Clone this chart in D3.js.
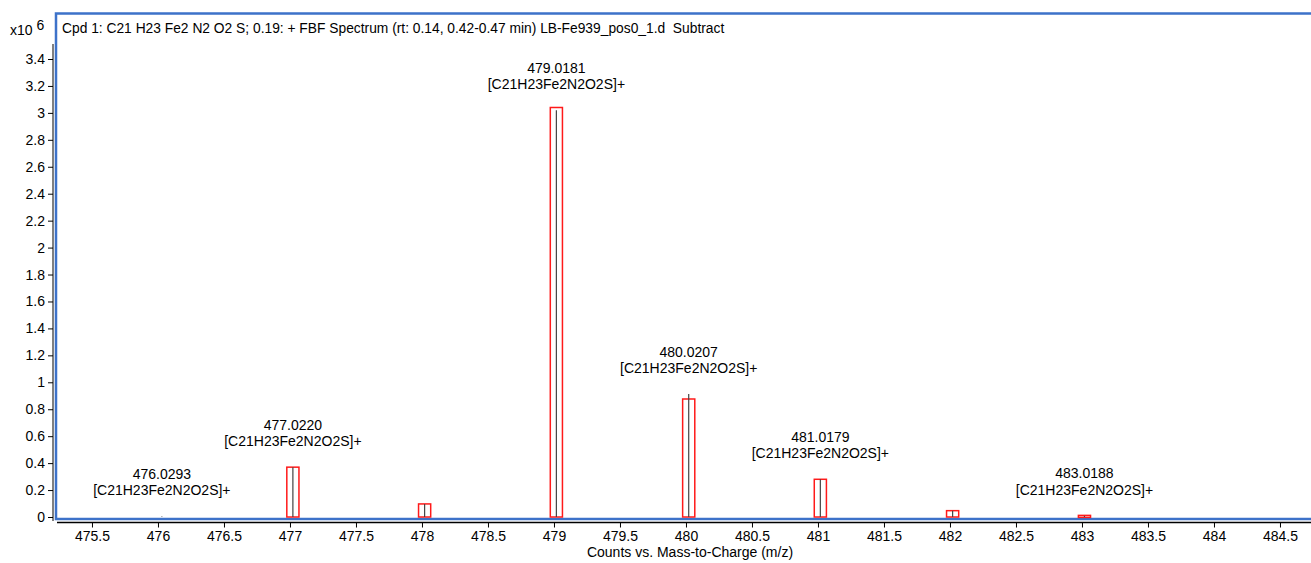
<!DOCTYPE html>
<html lang="en">
<head>
  <meta charset="UTF-8">
  <title>Cpd 1 FBF Spectrum</title>
  <script src="https://cdn.jsdelivr.net/npm/d3@7"></script>
  <style>
    body { margin: 0; background: #fff; font-family: Arial, "Liberation Sans", sans-serif; }
    svg text { font-family: Arial, "Liberation Sans", sans-serif; fill: #000; white-space: pre; }
  </style>
</head>
<body>
  <svg id="chart" width="1311" height="563"></svg>
  <script>
    // peaks: measured m/z (labels), predicted isotope box heights, measured line heights (x10^6)
    const peakMz      = [476.0293, 477.0220, 478.0200, 479.0181, 480.0207, 481.0179, 482.0200, 483.0188];
    const predicted   = [0,        0.37,     0.097,    3.04,     0.876,    0.28,     0.047,    0.012];
    const measured    = [0.004,    0.37,     0.097,    3.02,     0.913,    0.28,     0.047,    0.008];
    const labelled    = [true,     true,     false,    true,     true,     true,     false,    true];
    const formula = "[C21H23Fe2N2O2S]+";
    const title = "Cpd 1: C21 H23 Fe2 N2 O2 S; 0.19: + FBF Spectrum (rt: 0.14, 0.42-0.47 min) LB-Fe939_pos0_1.d  Subtract";
    const xTicks = d3.range(475.5, 484.51, 0.5);
    const yTicks = d3.range(0, 3.41, 0.2).map(v => +v.toFixed(1));

    const svg = d3.select("#chart");
    const fs = "14px";

    const x = d3.scaleLinear().domain([475.235, 484.735]).range([57, 1311]);
    const y = d3.scaleLinear().domain([0, 3.4]).range([517, 59]);

    // blue plot frame
    svg.append("rect")
      .attr("x", 56).attr("y", 13.5)
      .attr("width", 1300).attr("height", 505.5)
      .attr("fill", "none")
      .attr("stroke", "#3d72c9")
      .attr("stroke-width", 2.5);

    // y axis
    const yAxis = svg.append("g")
      .attr("transform", "translate(53,0)")
      .call(d3.axisLeft(y).tickValues(yTicks).tickSize(5).tickPadding(3)
        .tickFormat(d => d3.format("~g")(d)));
    yAxis.select(".domain").attr("d", "M0,44V521");
    yAxis.selectAll("text").style("font-size", fs);

    // x axis
    const xAxis = svg.append("g")
      .attr("transform", "translate(0,522.5)")
      .call(d3.axisBottom(x).tickValues(xTicks).tickSize(5).tickPadding(4)
        .tickFormat(d => d3.format("~g")(d)));
    xAxis.select(".domain").attr("d", "M57,0H1311").attr("stroke-width", 1.5);
    xAxis.selectAll("text").style("font-size", fs);

    // multiplier
    const mult = svg.append("text").attr("x", 10).attr("y", 35).style("font-size", fs);
    mult.append("tspan").text("x10");
    mult.append("tspan").attr("dx", 4).attr("dy", -5).text("6");

    // title
    svg.append("text")
      .attr("x", 62).attr("y", 33)
      .style("font-size", "13.8px")
      .text(title);

    const halfW = 0.046;
    const peaks = peakMz.map((m, i) => ({ m, p: predicted[i], v: measured[i], lab: labelled[i] }));

    // predicted isotope boxes
    svg.selectAll("rect.pred")
      .data(peaks.filter(d => d.p > 0))
      .enter().append("rect")
      .attr("class", "pred")
      .attr("x", d => x(d.m - halfW))
      .attr("y", d => y(d.p))
      .attr("width", d => x(d.m + halfW) - x(d.m - halfW))
      .attr("height", d => Math.max(y(0) - y(d.p), 2))
      .attr("fill", "none")
      .attr("stroke", "#ff1a1a")
      .attr("stroke-width", 1.5);

    // measured spectrum lines
    svg.selectAll("line.meas")
      .data(peaks)
      .enter().append("line")
      .attr("class", "meas")
      .attr("x1", d => x(d.m)).attr("x2", d => x(d.m))
      .attr("y1", y(0)).attr("y2", d => y(d.v))
      .attr("stroke", "#444")
      .attr("stroke-width", 1.2);

    // peak labels
    const lab = svg.selectAll("g.lab")
      .data(peaks.filter(d => d.lab))
      .enter().append("g")
      .attr("class", "lab")
      .attr("transform", d => `translate(${x(d.m)},${y(d.v) - 21})`);
    lab.append("text")
      .attr("text-anchor", "middle").attr("y", -16.5)
      .style("font-size", fs)
      .text(d => d.m.toFixed(4));
    lab.append("text")
      .attr("text-anchor", "middle").attr("y", 0)
      .style("font-size", fs)
      .text(formula);

    // x axis title
    svg.append("text")
      .attr("x", 690).attr("y", 557)
      .attr("text-anchor", "middle")
      .style("font-size", fs)
      .text("Counts vs. Mass-to-Charge (m/z)");
  </script>
</body>
</html>
